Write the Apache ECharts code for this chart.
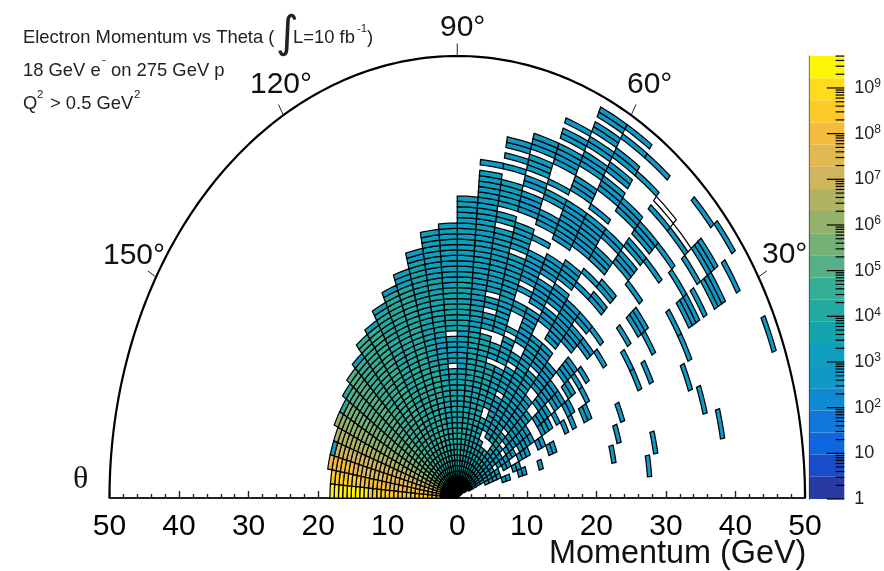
<!DOCTYPE html>
<html><head><meta charset="utf-8">
<style>html,body{margin:0;padding:0;background:#fff}#c{width:884px;height:571px}</style>
<script src="https://cdn.jsdelivr.net/npm/echarts@6/dist/echarts.min.js"></script>
</head><body><div id="c"></div>
<script>
// momentum-bin width (GeV) and theta-bin width (deg)
const binWidth = 0.61;
const thetaWidth = 5;
// runs per theta column: [first momentum bin, last momentum bin, log10(count)]; -1 = empty outlined cell
const c5 = [[45,45,2.7]];
const c10 = [[37,37,2.7],[47,47,2.7],[63,63,2.7]];
const c15 = [[11,12,2.8],[15,16,2.8],[20,20,2.7],[39,39,2.7],[60,60,2.7]];
const c20 = [[7,10,3.0],[14,15,2.8],[23,24,2.8],[41,41,2.7],[58,58,2.7],[79,79,2.7]];
const c25 = [[3,10,3.0],[12,13,2.9],[16,18,2.8],[21,22,2.8],[28,28,2.7],[30,30,2.7],[33,34,2.7],[47,47,2.7],[50,50,2.7],[60,60,2.7]];
const c30 = [[2,9,3.1],[11,15,2.9],[17,20,2.8],[23,25,2.8],[27,27,2.7],[30,31,2.7],[35,35,2.7],[47,47,2.7],[53,53,2.7],[60,60,2.7],[63,65,2.7],[67,67,2.7],[70,72,2.7],[76,76,2.7]];
const c35 = [[0,12,3.2],[14,20,2.9],[23,26,2.8],[28,30,2.8],[32,33,2.7],[35,35,2.7],[37,37,2.7],[42,42,2.7],[49,49,2.7],[52,54,2.7],[65,65,2.7],[69,69,2.7],[72,74,2.7],[79,79,2.7]];
const c40 = [[0,13,3.3],[15,22,3.0],[25,30,2.8],[33,36,2.8],[40,41,2.7],[44,44,2.7],[56,56,2.7],[62,62,2.7],[66,66,2.7],[70,70,2.7],[71,71,-1],[78,78,2.7]];
const c45 = [[0,15,3.4],[17,24,3.0],[27,32,2.9],[38,41,2.8],[43,44,2.8],[48,49,2.7],[51,52,2.7],[57,59,2.7],[61,62,2.7],[64,66,2.7],[70,70,2.7],[72,72,-1]];
const c50 = [[0,10,3.5],[13,28,3.0],[30,34,2.9],[36,44,2.8],[48,48,2.8],[51,51,2.7],[54,56,2.7],[59,60,2.7],[65,67,2.7],[73,73,2.7],[77,77,2.7]];
const c55 = [[0,10,3.5],[13,34,3.0],[38,40,2.8],[42,45,2.8],[47,50,2.8],[54,60,2.8],[62,62,2.7],[66,68,2.7],[70,71,2.7],[73,74,2.7],[77,77,2.7],[79,79,2.7]];
const c60 = [[0,11,3.6],[14,20,3.1],[22,26,3.0],[28,29,3.0],[32,38,2.9],[40,44,2.9],[46,49,2.9],[53,60,2.8],[63,65,2.8],[68,70,2.8],[72,73,2.7],[75,76,2.7],[78,79,2.7]];
const c65 = [[0,15,3.6],[18,25,3.1],[27,31,3.0],[33,33,3.0],[37,38,3.0],[41,41,2.9],[43,48,2.9],[51,51,2.9],[54,56,2.9],[59,59,2.8],[60,60,3.0],[62,62,2.8],[66,69,2.8],[71,72,2.8],[74,74,2.7]];
const c70 = [[0,25,3.7],[27,29,3.2],[32,46,3.0],[48,52,3.0],[55,58,2.9],[60,61,2.9],[63,65,3.2],[67,69,2.9]];
const c75 = [[0,30,3.7],[32,34,3.1],[36,37,3.1],[39,50,3.0],[52,53,3.0],[55,59,3.0],[62,62,2.8],[64,64,2.8],[66,67,2.9]];
const c80 = [[0,12,4.0],[13,30,3.5],[31,56,3.1],[57,60,3.0],[62,62,2.8]];
const c85 = [[0,12,4.1],[13,22,3.6],[23,30,3.2],[31,40,3.4],[41,55,3.0]];
const c90 = [[0,12,4.2],[13,23,3.7],[25,29,3.2],[31,38,3.4],[39,50,3.0]];
const c95 = [[0,12,4.2],[13,26,3.8],[27,30,3.2],[31,40,3.5],[41,49,3.0]];
const c100 = [[0,12,4.3],[13,24,3.9],[25,44,3.6],[45,46,2.9]];
const c105 = [[0,12,4.4],[13,40,3.95],[41,43,3.0]];
const c110 = [[0,12,4.5],[13,40,4.1],[41,41,2.9]];
const c115 = [[0,38,4.3],[39,39,3.0]];
const c120 = [[0,36,4.45],[37,37,3.3]];
const c125 = [[0,36,4.6]];
const c130 = [[0,33,4.8],[34,34,3.2]];
const c135 = [[0,33,5.0]];
const c140 = [[0,31,5.3],[32,32,3.9]];
const c145 = [[0,30,5.7],[31,31,4.1]];
const c150 = [[0,8,6.0],[9,31,6.1]];
const c155 = [[0,8,6.5],[9,30,6.6]];
const c160 = [[0,6,6.9],[7,29,7.2],[30,30,3.2]];
const c165 = [[0,6,7.2],[7,24,7.6],[25,30,7.9]];
const c170 = [[0,6,7.6],[7,22,8.0],[23,29,8.4]];
const c175 = [[0,6,8.0],[7,20,8.5],[21,29,9.3]];
const columns = [[5,c5],[10,c10],[15,c15],[20,c20],[25,c25],[30,c30],[35,c35],[40,c40],[45,c45],[50,c50],[55,c55],[60,c60],[65,c65],[70,c70],[75,c75],[80,c80],[85,c85],[90,c90],[95,c95],[100,c100],[105,c105],[110,c110],[115,c115],[120,c120],[125,c125],[130,c130],[135,c135],[140,c140],[145,c145],[150,c150],[155,c155],[160,c160],[165,c165],[170,c170],[175,c175]];
// colour bar
const bandColors = ['#2A3AA3','#194DC8','#0F66DF','#1277DA','#1089D2','#0E99C7','#0E9FBF','#13A4AE','#23A99F','#35AE96','#55AF87','#75B177','#94B26C','#B0B364','#CFB55C','#E2B951','#F2BD3E','#FCCB27','#FEDC1D','#FDF506'];
const colorMax = 9.7;
const decades = [0,1,2,3,4,5,6,7,8,9];
const minorFactors = [2,3,4,5,6,7,8,9];
const angleTicks = [30,60,90,120,150];

const cells = [];
columns.forEach(([th, runs]) => runs.forEach(([a,b,v]) => {
  for (let k=a;k<=b;k++) cells.push([th,k,v]);
}));
const bands = bandColors.map((c,i)=>[i*colorMax/bandColors.length,(i+1)*colorMax/bandColors.length,i]);
const barTicks = [];
decades.forEach(d=>{
  barTicks.push([d,0.5]);
  minorFactors.forEach(f=>{const v=d+Math.log10(f); if(v<colorMax) barTicks.push([v,0.75]);});
});
function colorOf(v){
  if(v<0) return '#fff';
  const i=Math.min(bandColors.length-1,Math.floor(v/(colorMax/bandColors.length)));
  return bandColors[i];
}
function polar(api,r,deg){const t=deg*Math.PI/180;return api.coord([r*Math.cos(t),r*Math.sin(t)]);}
const F='"Liberation Sans",Arial,sans-serif';
const txt=(x,cy,text,size)=>({type:'text',left:x,top:cy-size/2,silent:true,style:{text,font:size+'px '+F,fill:'#222'}});
const big=(x,cy,text)=>({type:'text',left:x,top:cy-15,silent:true,style:{text,font:'30px '+F,fill:'#111'}});

const chart=echarts.init(document.getElementById('c'),null,{renderer:'canvas',width:884,height:571});
chart.setOption({
  animation:false,
  backgroundColor:'#fff',
  grid:[
    {left:109.5,width:695.5,top:56,height:442,containLabel:false},
    {left:809.5,width:39.5,top:56,height:443,containLabel:false}
  ],
  xAxis:[
    {gridIndex:0,type:'value',min:-50,max:50,interval:10,
      axisLine:{show:true,onZero:false,lineStyle:{color:'#222',width:2}},
      axisTick:{show:true,inside:true,length:7,lineStyle:{color:'#222',width:1.4}},
      minorTick:{show:true,splitNumber:5,length:4,lineStyle:{color:'#222',width:1.4}},
      splitLine:{show:false},
      axisLabel:{fontFamily:F,fontSize:30,color:'#000',margin:14,formatter:v=>String(Math.abs(v))}},
    {gridIndex:1,type:'value',min:0,max:1,show:false}
  ],
  yAxis:[
    {gridIndex:0,type:'value',min:0,max:50,show:false},
    {gridIndex:1,type:'value',min:0,max:colorMax,interval:1,position:'right',
      axisLine:{show:true,lineStyle:{color:'#222',width:1.2}},axisTick:{show:false},splitLine:{show:false},
      axisLabel:{margin:10,showMaxLabel:false,fontFamily:F,
        formatter:v=>{ if(v!==Math.round(v)) return ''; if(v===0) return '{a|1}'; if(v===1) return '{a|10}'; return '{a|10}{s|'+v+'}'; },
        rich:{a:{fontFamily:F,fontSize:18,color:'#222'},s:{fontFamily:F,fontSize:12,color:'#222',verticalAlign:'top',padding:[0,0,8,0]}}}}
  ],
  series:[
    {type:'custom',name:'cells',coordinateSystem:'cartesian2d',xAxisIndex:0,yAxisIndex:0,clip:false,progressive:0,silent:true,
     data:cells,
     renderItem:(p,api)=>{
       const th=api.value(0),k=api.value(1),v=api.value(2);
       const r0=k*binWidth,r1=(k+1)*binWidth,pts=[];
       const n=5;
       for(let i=0;i<=n;i++)pts.push(polar(api,r1,th+thetaWidth*i/n));
       for(let i=n;i>=0;i--)pts.push(polar(api,r0,th+thetaWidth*i/n));
       return {type:'polygon',shape:{points:pts},style:{fill:k<4?'#000':colorOf(v),stroke:'#000',lineWidth:1.25}};
     }},
    {type:'custom',name:'frame',coordinateSystem:'cartesian2d',xAxisIndex:0,yAxisIndex:0,clip:false,silent:true,
     data:[[0,0]],
     renderItem:(p,api)=>{
       const pts=[];for(let d=0;d<=180;d+=1)pts.push(polar(api,50,d));
       const kids=[{type:'polyline',shape:{points:pts},style:{fill:null,stroke:'#000',lineWidth:2.2}}];
       angleTicks.forEach(a=>{const s=polar(api,50,a),e=polar(api,51.4,a);
         kids.push({type:'line',shape:{x1:s[0],y1:s[1],x2:e[0],y2:e[1]},style:{stroke:'#222',lineWidth:1}});});
       return {type:'group',children:kids};
     }},
    {type:'custom',name:'bar',coordinateSystem:'cartesian2d',xAxisIndex:1,yAxisIndex:1,clip:false,silent:true,progressive:0,
     data:bands,
     renderItem:(p,api)=>{
       const a=api.coord([0,api.value(0)]),b=api.coord([1,api.value(1)]);
       return {type:'rect',shape:{x:a[0],y:b[1],width:b[0]-a[0],height:a[1]-b[1]},style:{fill:bandColors[api.value(2)]}};
     }},
    {type:'custom',name:'barTicks',coordinateSystem:'cartesian2d',xAxisIndex:1,yAxisIndex:1,clip:false,silent:true,progressive:0,z:3,
     data:barTicks,
     renderItem:(p,api)=>{
       const a=api.coord([1,api.value(0)]),b=api.coord([api.value(1),api.value(0)]);
       return {type:'line',shape:{x1:a[0],y1:a[1],x2:b[0],y2:b[1]},style:{stroke:'#000',lineWidth:1.2}};
     }}
  ],
  graphic:[
    txt(23,38,'Electron Momentum vs Theta (',18.4),
    {type:'text',left:276,top:14,silent:true,style:{text:'∫',font:'44px "DejaVu Sans"',fill:'#222'}},
    txt(293,38,'L=10 fb',18.4),
    txt(357,29,'-1',11.5),
    txt(367,38,')',18.4),
    txt(23,71,'18 GeV e',18.4),
    txt(102,60,'-',11.5),
    txt(111,71,'on 275 GeV p',18.4),
    txt(23,104,'Q',18.4),
    txt(37,95,'2',11.5),
    txt(50,104,'> 0.5 GeV',18.4),
    txt(134,95,'2',11.5),
    big(440,28,'90°'),big(250,85,'120°'),big(627,85,'60°'),big(103,256,'150°'),big(762,255,'30°'),
    {type:'text',left:73,top:464,silent:true,style:{text:'θ',font:'32px "Liberation Serif"',fill:'#111'}},
    {type:'text',left:549,top:538,silent:true,style:{text:'Momentum (GeV)',font:'32.4px '+F,fill:'#111'}}
  ]
});
</script></body></html>
